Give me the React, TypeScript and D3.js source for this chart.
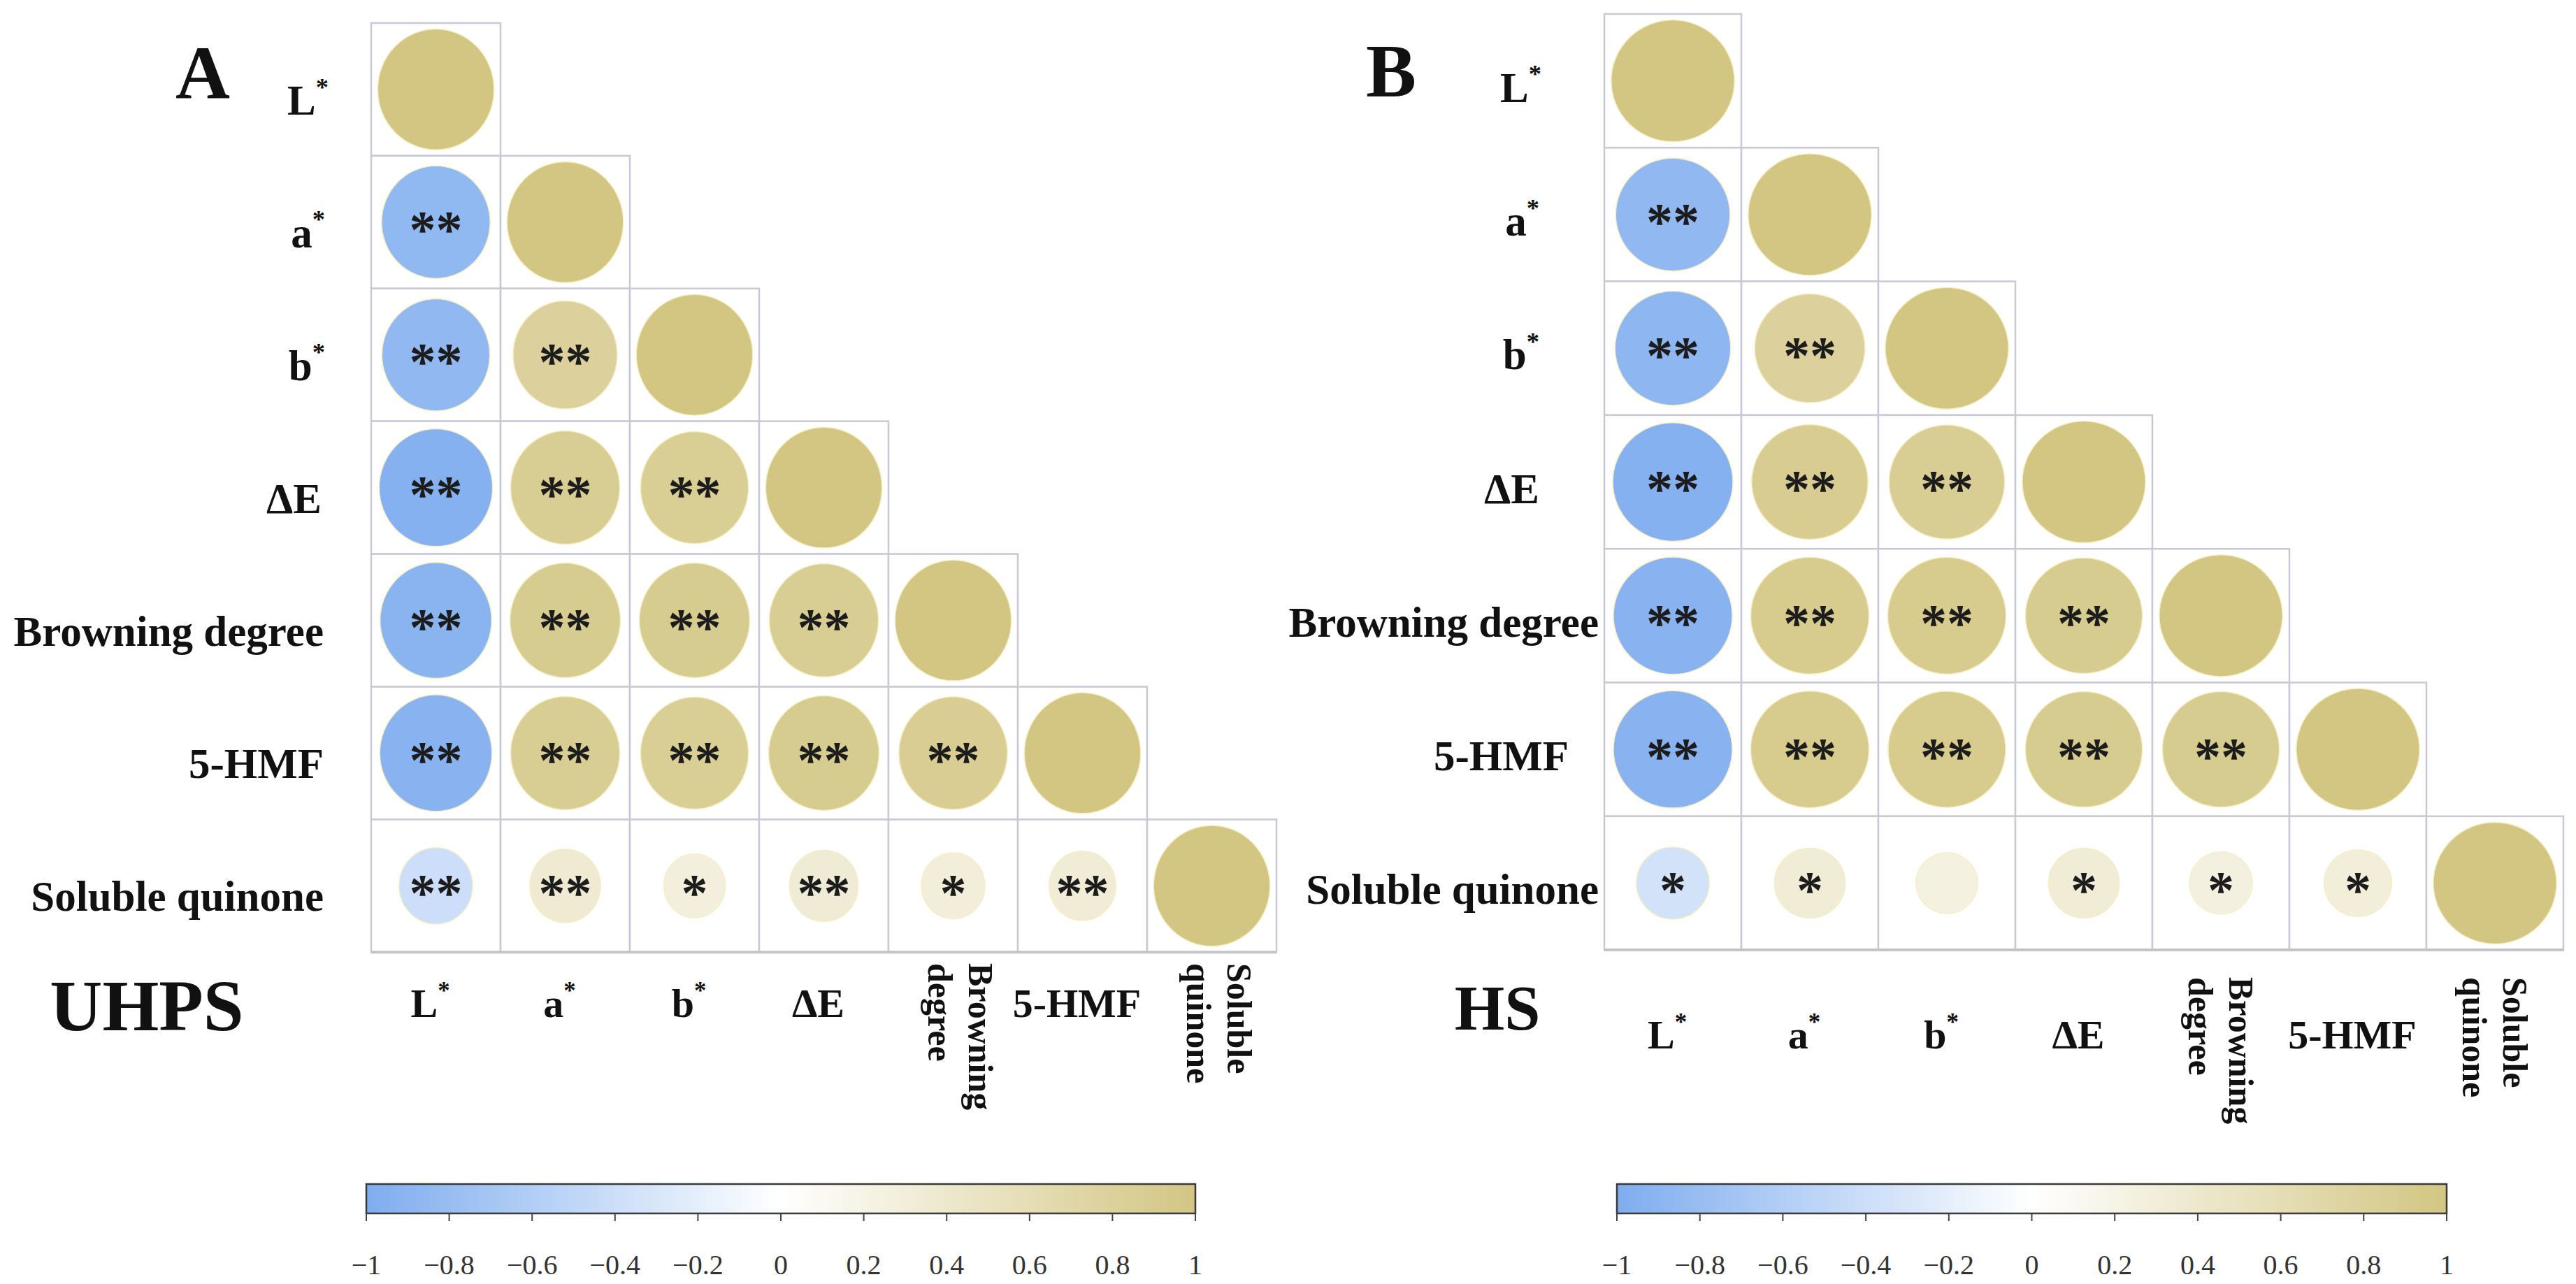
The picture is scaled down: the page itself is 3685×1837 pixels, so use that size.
import React from "react";
import * as d3 from "d3";

const variables = ["L*", "a*", "b*", "ΔE", "Browning degree", "5-HMF", "Soluble quinone"];
const columnLabelLines = [["L*"], ["a*"], ["b*"], ["ΔE"], ["Browning", "degree"], ["5-HMF"], ["Soluble", "quinone"]];

// lower-triangle correlation values (row i, columns 0..i)
const uhpsCorr = [
  [1],
  [-0.87, 1],
  [-0.86, 0.8, 1],
  [-0.95, 0.88, 0.86, 1],
  [-0.92, 0.9, 0.9, 0.88, 1],
  [-0.93, 0.88, 0.86, 0.9, 0.87, 1],
  [-0.4, 0.37, 0.28, 0.35, 0.3, 0.33, 1],
];
const uhpsSig = [
  [""],
  ["**", ""],
  ["**", "**", ""],
  ["**", "**", "**", ""],
  ["**", "**", "**", "**", ""],
  ["**", "**", "**", "**", "**", ""],
  ["**", "**", "*", "**", "*", "**", ""],
];
const hsCorr = [
  [1],
  [-0.86, 1],
  [-0.88, 0.8, 1],
  [-0.95, 0.89, 0.88, 1],
  [-0.93, 0.92, 0.92, 0.9, 1],
  [-0.93, 0.92, 0.91, 0.9, 0.9, 1],
  [-0.35, 0.33, 0.25, 0.33, 0.26, 0.3, 1],
];
const hsSig = [
  [""],
  ["**", ""],
  ["**", "**", ""],
  ["**", "**", "**", ""],
  ["**", "**", "**", "**", ""],
  ["**", "**", "**", "**", "**", ""],
  ["*", "*", "", "*", "*", "*", ""],
];
const colorbarTicks = [-1, -0.8, -0.6, -0.4, -0.2, 0, 0.2, 0.4, 0.6, 0.8, 1];
const panelLetters = ["A", "B"];
const treatmentNames = ["UHPS", "HS"];

const colorScale = d3
  .scaleLinear<string>()
  .domain([-1, 0, 1])
  .range(["#7FADEF", "#FFFFFF", "#D3C683"])
  .interpolate(d3.interpolateRgb);

const FONT = "'Liberation Serif', 'Times New Roman', serif";

const layouts = [
  {
    corr: uhpsCorr, sig: uhpsSig, letter: panelLetters[0], name: treatmentNames[0],
    gx: 531, gy: 33, cw: 185, ch: 189.9,
    rowLabelRight: [470, 465, 465, 460, 463, 463, 463], rowLabelDy: 36,
    colBaseline: 1455, rotStart: 1378, rotShift: 22,
    letterX: 290, letterY: 141, nameX: 210, nameY: 1474, nameSize: 104, barX0: 524, barX1: 1710,
  },
  {
    corr: hsCorr, sig: hsSig, letter: panelLetters[1], name: treatmentNames[1],
    gx: 2295, gy: 20, cw: 196, ch: 191.3,
    rowLabelRight: [2205, 2202, 2202, 2202, 2287, 2244, 2287], rowLabelDy: 30,
    colBaseline: 1500, rotStart: 1398, rotShift: 12,
    letterX: 1990, letterY: 138, nameX: 2142, nameY: 1473, nameSize: 92, barX0: 2313, barX1: 3500,
  },
];

function labelContent(t: string) {
  if (t.endsWith("*")) {
    return (
      <>
        {t.slice(0, -1)}
        <tspan fontSize="0.6em" dy="-0.75em">*</tspan>
      </>
    );
  }
  return t;
}

const fmt = d3.format("");

function Panel({ L, idx }: { L: any; idx: number }) {
  const x = d3.scaleBand<string>().domain(variables).range([L.gx, L.gx + variables.length * L.cw]);
  const y = d3.scaleBand<string>().domain(variables).range([L.gy, L.gy + variables.length * L.ch]);
  const bw = x.bandwidth();
  const bh = y.bandwidth();
  const barScale = d3.scaleLinear().domain([-1, 1]).range([L.barX0, L.barX1]);
  const barY = 1694;
  const barH = 42;
  const gradId = `grad${idx}`;
  const gridBottom = L.gy + variables.length * L.ch;
  const starSize = 76;

  return (
    <g>
      <defs>
        <linearGradient id={gradId} x1="0" x2="1" y1="0" y2="0">
          {d3.range(0, 21).map((k) => {
            const v = -1 + k * 0.1;
            return <stop key={k} offset={`${k * 5}%`} stopColor={colorScale(v)} />;
          })}
        </linearGradient>
      </defs>
      {/* cells */}
      {variables.map((rv, i) =>
        variables.slice(0, i + 1).map((cv, j) => (
          <rect key={`c${i}-${j}`} x={x(cv)} y={y(rv)} width={bw} height={bh}
            fill="#fff" stroke="#C8C9D4" strokeWidth={2.5} />
        ))
      )}
      <line x1={L.gx} x2={L.gx + variables.length * L.cw} y1={gridBottom} y2={gridBottom}
        stroke="#C4C4C8" strokeWidth={4} />
      {/* circles */}
      {variables.map((rv, i) =>
        variables.slice(0, i + 1).map((cv, j) => {
          const r = L.corr[i][j];
          const s = Math.sqrt(Math.abs(r));
          const cx = (x(cv) as number) + bw / 2;
          const cy = (y(rv) as number) + bh / 2;
          return (
            <g key={`e${i}-${j}`}>
              <ellipse cx={cx} cy={cy} rx={0.45 * bw * s} ry={0.455 * bh * s}
                fill={colorScale(r)} stroke="#F4EFC8" strokeWidth={1.5} />
              {L.sig[i][j] && (
                <text x={cx} y={cy + 0.47 * starSize} textAnchor="middle" fontFamily={FONT}
                  fontWeight="bold" fontSize={starSize} fill="#1c1c1c">{L.sig[i][j]}</text>
              )}
            </g>
          );
        })
      )}
      {/* row labels */}
      {variables.map((rv, i) => (
        <text key={`r${rv}`} x={L.rowLabelRight[i]} y={(y(rv) as number) + bh / 2 + L.rowLabelDy}
          textAnchor="end" fontFamily={FONT} fontWeight="bold" fontSize={61} fill="#111">
          {labelContent(rv)}
        </text>
      ))}
      {/* column labels */}
      {variables.map((cv, j) => {
        const lines = columnLabelLines[j];
        const cx = (x(cv) as number) + bw / 2;
        if (lines.length === 1) {
          return (
            <text key={`cl${cv}`} x={cx - 8} y={L.colBaseline} textAnchor="middle"
              fontFamily={FONT} fontWeight="bold" fontSize={58} fill="#111">{labelContent(lines[0])}</text>
          );
        }
        return (
          <text key={`cl${cv}`} transform={`translate(${cx + L.rotShift},${L.rotStart}) rotate(90)`}
            fontFamily={FONT} fontWeight="bold" fontSize={50} fill="#111">
            {lines.map((ln, k) => (
              <tspan key={k} x={0} y={k * 58}>{ln}</tspan>
            ))}
          </text>
        );
      })}
      {/* panel letter and name */}
      <text x={L.letterX} y={L.letterY} textAnchor="middle" fontFamily={FONT} fontWeight="bold"
        fontSize={108} fill="#111">{L.letter}</text>
      <text x={L.nameX} y={L.nameY} textAnchor="middle" fontFamily={FONT} fontWeight="bold"
        fontSize={L.nameSize} fill="#111">{L.name}</text>
      {/* colorbar */}
      <rect x={L.barX0} y={barY} width={L.barX1 - L.barX0} height={barH} fill={`url(#${gradId})`}
        stroke="#3a3a3a" strokeWidth={2.5} />
      {colorbarTicks.map((t) => (
        <g key={`t${t}`}>
          <line x1={barScale(t)} x2={barScale(t)} y1={barY + barH} y2={barY + barH + 11}
            stroke="#444" strokeWidth={2} />
          <text x={barScale(t)} y={1823} textAnchor="middle" fontFamily={FONT} fontSize={40}
            fill="#333">{fmt(t)}</text>
        </g>
      ))}
    </g>
  );
}

export default function App() {
  return (
    <svg width={3685} height={1837} viewBox="0 0 3685 1837"
      style={{ position: "absolute", left: 0, top: 0, background: "#fff" }}>
      <rect x={0} y={0} width={3685} height={1837} fill="#fff" />
      {layouts.map((L, i) => (
        <Panel key={i} L={L} idx={i} />
      ))}
    </svg>
  );
}
